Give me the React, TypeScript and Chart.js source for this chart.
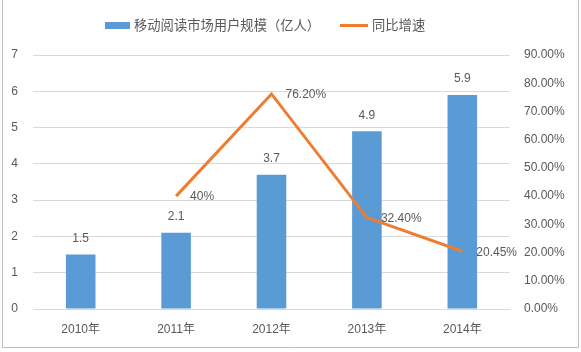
import React, { useEffect, useRef } from "react";
import { Chart, registerables } from "chart.js";

Chart.register(...registerables);

const categories = ["2010年", "2011年", "2012年", "2013年", "2014年"];
const users = [1.5, 2.1, 3.7, 4.9, 5.9];
const userLabels = ["1.5", "2.1", "3.7", "4.9", "5.9"];
const growth = [null, 40, 76.2, 32.4, 20.45];
const growthLabels = ["", "40%", "76.20%", "32.40%", "20.45%"];
const barName = "移动阅读市场用户规模（亿人）";
const lineName = "同比增速";

const BLUE = "#5B9BD5";
const ORANGE = "#ED7D31";
const TEXT = "#595959";
const FONT = "'Liberation Sans', 'Noto Sans CJK SC', sans-serif";

export default function App() {
  const ref = useRef<HTMLCanvasElement>(null);

  useEffect(() => {
    const canvas = ref.current;
    if (!canvas) return;

    const labelsPlugin = {
      id: "customLabels",
      afterDatasetsDraw(chart: any) {
        const ctx = chart.ctx;
        ctx.save();
        ctx.font = `12px ${FONT}`;
        ctx.fillStyle = TEXT;
        ctx.textBaseline = "middle";
        const barMeta = chart.getDatasetMeta(0);
        barMeta.data.forEach((el: any, i: number) => {
          ctx.textAlign = "center";
          ctx.fillText(userLabels[i], el.x, el.y - 16);
        });
        const lineMeta = chart.getDatasetMeta(1);
        lineMeta.data.forEach((el: any, i: number) => {
          if (growth[i] == null) return;
          ctx.textAlign = "left";
          ctx.fillText(growthLabels[i], el.x + 14, el.y + 1);
        });
        ctx.restore();
      },
      afterDraw(chart: any) {
        const ctx = chart.ctx;
        ctx.save();
        // legend
        ctx.fillStyle = BLUE;
        ctx.fillRect(105, 22, 25, 7);
        ctx.font = `13.3px ${FONT}`;
        ctx.fillStyle = TEXT;
        ctx.textBaseline = "middle";
        ctx.textAlign = "left";
        ctx.fillText(barName, 134, 26);
        ctx.strokeStyle = ORANGE;
        ctx.lineWidth = 3;
        ctx.beginPath();
        ctx.moveTo(340, 25.5);
        ctx.lineTo(368, 25.5);
        ctx.stroke();
        ctx.fillText(lineName, 372, 26);
        // frame
        ctx.strokeStyle = "#BFBFBF";
        ctx.lineWidth = 1;
        ctx.beginPath();
        ctx.moveTo(2.5, 0);
        ctx.lineTo(2.5, 347.5);
        ctx.lineTo(578.5, 347.5);
        ctx.lineTo(578.5, 0);
        ctx.stroke();
        ctx.restore();
      },
    };

    const chart = new Chart(canvas, {
      type: "bar",
      data: {
        labels: categories,
        datasets: [
          {
            type: "bar",
            label: barName,
            data: users,
            backgroundColor: BLUE,
            barPercentage: 0.31,
            categoryPercentage: 1,
            yAxisID: "y",
            order: 2,
          },
          {
            type: "line",
            label: lineName,
            data: growth as any,
            borderColor: ORANGE,
            backgroundColor: ORANGE,
            borderWidth: 3,
            pointRadius: 0,
            tension: 0,
            yAxisID: "y1",
            order: 1,
          } as any,
        ],
      },
      options: {
        responsive: false,
        animation: false,
        layout: { padding: { top: 55, left: 0, right: 0, bottom: 0 } },
        plugins: {
          legend: { display: false },
          tooltip: { enabled: false },
        },
        scales: {
          x: {
            grid: { display: false },
            border: { display: true, color: "#D9D9D9", width: 1 },
            ticks: { color: TEXT, font: { size: 12, family: FONT }, padding: 5 },
            afterFit: (s: any) => {
              s.height = 43;
            },
          },
          y: {
            position: "left",
            min: 0,
            max: 7,
            ticks: { stepSize: 1, color: TEXT, font: { size: 12, family: FONT }, padding: 15 },
            grid: { color: "#D9D9D9", drawTicks: false },
            border: { display: false },
            afterFit: (s: any) => {
              s.width = 33;
            },
          },
          y1: {
            position: "right",
            min: 0,
            max: 90,
            ticks: {
              stepSize: 10,
              color: TEXT,
              font: { size: 12, family: FONT },
              padding: 14,
              callback: (v: any) => Number(v).toFixed(2) + "%",
            },
            grid: { display: false, drawTicks: false },
            border: { display: false },
            afterFit: (s: any) => {
              s.width = 71;
            },
          },
        },
      },
      plugins: [labelsPlugin],
    });

    return () => chart.destroy();
  }, []);

  return (
    <div style={{ position: "absolute", left: 0, top: 0, width: 581, height: 352, background: "#fff" }}>
      <canvas ref={ref} width={581} height={352} />
    </div>
  );
}
